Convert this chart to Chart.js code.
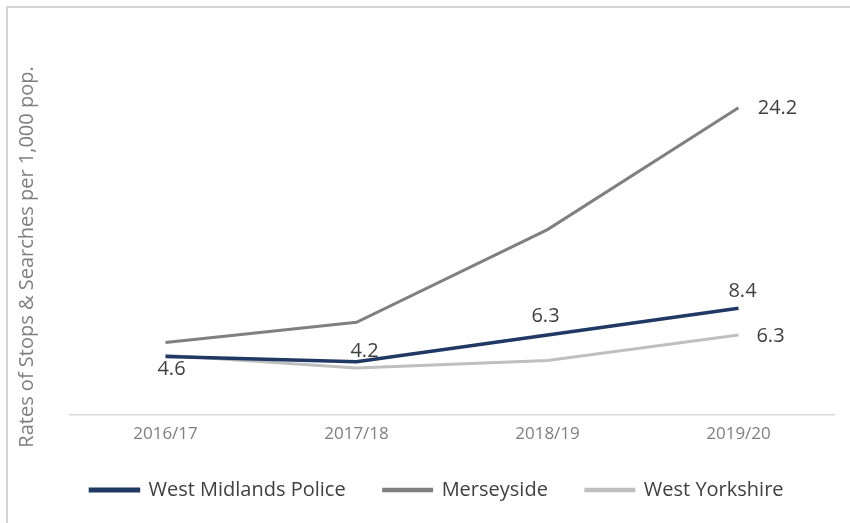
<!DOCTYPE html>
<html lang="en">
  <head>
    <meta charset="UTF-8" />
    <title>stop and search rates</title>
    <script src="https://cdn.jsdelivr.net/npm/chart.js@4/dist/chart.umd.min.js"></script>
    <style>
      html, body { margin: 0; padding: 0; background: #fff; }
      #wrap { position: relative; width: 850px; height: 523px; }
      #frame {
        position: absolute; left: 6px; top: 6px; right: -2px; bottom: -2px;
        border-top: 2px solid #d4d4d4; border-left: 2px solid #d4d4d4;
      }
      canvas { position: absolute; left: 0; top: 0; }
    </style>
  </head>
  <body>
    <div id="wrap">
      <div id="frame"></div>
      <canvas id="chart" width="850" height="523"></canvas>
    </div>
    <script>
      const years = ["2016/17", "2017/18", "2018/19", "2019/20"];
      const westMidlands = [4.6, 4.2, 6.3, 8.4];
      const merseyside = [5.7, 7.3, 14.6, 24.2];
      const westYorkshire = [4.7, 3.7, 4.3, 6.3];
      const yTitle = "Rates of Stops & Searches per 1,000 pop.";

      const fontFamily = '"Open Sans", "Liberation Sans", sans-serif';
      const textGrey = "#7f7f7f";

      // which points get a value label, and where it sits relative to the point
      const valueLabels = [
        { ds: 0, i: 0, dx: 6, dy: 13 },
        { ds: 0, i: 1, dx: 8, dy: -10 },
        { ds: 0, i: 2, dx: -2, dy: -19 },
        { ds: 0, i: 3, dx: 4, dy: -17 },
        { ds: 1, i: 3, dx: 39, dy: 1 },
        { ds: 2, i: 3, dx: 32, dy: 1 },
      ];

      const labelPlugin = {
        id: "valueLabels",
        afterDatasetsDraw(chart) {
          const ctx = chart.ctx;
          ctx.save();
          ctx.font = "20px " + fontFamily;
          ctx.fillStyle = "#404040";
          ctx.textAlign = "center";
          ctx.textBaseline = "middle";
          valueLabels.forEach((l) => {
            const pt = chart.getDatasetMeta(l.ds).data[l.i];
            const v = chart.data.datasets[l.ds].data[l.i];
            ctx.fillText(v.toFixed(1), pt.x + l.dx, pt.y + l.dy);
          });
          // y axis title, sits a bit lower than the plot centre in the original
          ctx.translate(27, 257);
          ctx.rotate(-Math.PI / 2);
          ctx.font = "20px " + fontFamily;
          ctx.fillStyle = textGrey;
          ctx.fillText(yTitle, 0, 0);
          ctx.restore();
        },
      };

      new Chart(document.getElementById("chart"), {
        type: "line",
        data: {
          labels: years,
          datasets: [
            { label: "West Midlands Police", data: westMidlands, borderColor: "#1f3864", backgroundColor: "#1f3864", borderWidth: 3.5 },
            { label: "Merseyside", data: merseyside, borderColor: "#808080", backgroundColor: "#808080", borderWidth: 3 },
            { label: "West Yorkshire", data: westYorkshire, borderColor: "#bfbfbf", backgroundColor: "#bfbfbf", borderWidth: 3 },
          ],
        },
        options: {
          responsive: false,
          animation: false,
          events: [],
          elements: { point: { radius: 0 }, line: { tension: 0 } },
          layout: { padding: { left: 40, right: 16, top: 34, bottom: 13 } },
          plugins: {
            tooltip: { enabled: false },
            legend: {
              position: "bottom",
              labels: {
                color: "#404040",
                font: { family: fontFamily, size: 20 },
                boxWidth: 48,
                boxHeight: 1.5,
                padding: 38,
              },
            },
          },
          scales: {
            x: {
              offset: true,
              grid: { display: false },
              border: { display: true, color: "#d9d9d9", width: 1.5 },
              ticks: { color: textGrey, font: { family: fontFamily, size: 17 }, padding: 1 },
              afterFit(scale) { scale.height = 27; },
            },
            y: {
              min: 0,
              max: 30,
              grid: { display: false },
              border: { display: false },
              ticks: { display: false },
              afterFit(scale) { scale.width = 30; },
            },
          },
        },
        plugins: [labelPlugin],
      });
    </script>
  </body>
</html>
